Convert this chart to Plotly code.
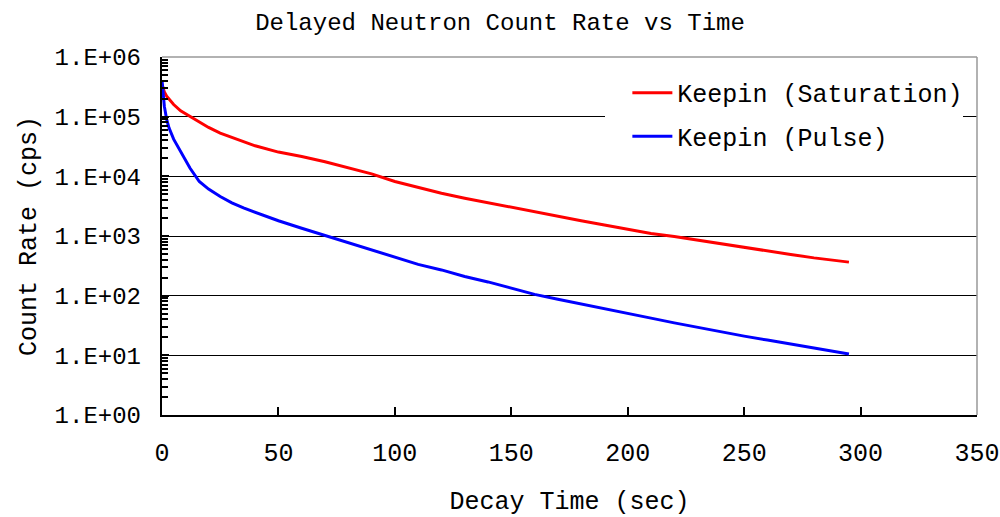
import plotly.graph_objects as go

# Decay time (s) and delayed neutron count rates (cps)
sat_time = [0, 1, 2, 3, 5, 8, 12, 16, 20, 25, 30, 35, 40, 50, 60, 70, 80, 90,
            100, 110, 120, 130, 140, 150, 160, 170, 180, 190, 200, 210, 220,
            230, 240, 250, 260, 270, 280, 290, 295]
sat_rate = [3.5e5, 2.6e5, 2.2e5, 1.95e5, 1.6e5, 1.25e5, 1.0e5, 8.0e4, 6.6e4,
            5.3e4, 4.5e4, 3.8e4, 3.25e4, 2.55e4, 2.15e4, 1.75e4, 1.38e4, 1.1e4,
            8.2e3, 6.5e3, 5.2e3, 4.3e3, 3.6e3, 3.0e3, 2.5e3, 2.1e3, 1.8e3,
            1.53e3, 1.3e3, 1.1e3, 9.8e2, 8.5e2, 7.4e2, 6.4e2, 5.6e2, 4.9e2,
            4.3e2, 3.8e2, 3.65e2]

pulse_time = [0, 0.5, 1, 2, 3, 5, 8, 10, 12, 16, 20, 25, 30, 35, 40, 50, 60,
              70, 80, 90, 100, 110, 120, 130, 140, 150, 160, 170, 180, 190,
              200, 210, 220, 230, 240, 250, 260, 270, 280, 290, 295]
pulse_rate = [4.1e5, 2.2e5, 1.5e5, 9.0e4, 6.5e4, 4.2e4, 2.6e4, 1.9e4, 1.38e4,
              8.2e3, 6.1e3, 4.6e3, 3.6e3, 2.95e3, 2.5e3, 1.8e3, 1.35e3, 1.02e3,
              7.8e2, 5.8e2, 4.5e2, 3.35e2, 2.7e2, 2.1e2, 1.7e2, 1.35e2, 1.05e2,
              8.7e1, 7.2e1, 6.0e1, 5.0e1, 4.2e1, 3.5e1, 2.95e1, 2.45e1, 2.1e1,
              1.8e1, 1.55e1, 1.32e1, 1.15e1, 1.05e1]

y_tickvals = [1, 1e1, 1e2, 1e3, 1e4, 1e5, 1e6]
y_ticktext = ["1.E+00", "1.E+01", "1.E+02", "1.E+03", "1.E+04", "1.E+05", "1.E+06"]
x_tickvals = [0, 50, 100, 150, 200, 250, 300, 350]
x_range = [0, 350]

# minor ticks at 2..9 within each decade
y_minor = [m * d for d in y_tickvals[:-1] for m in range(2, 10)]

FONT = "Liberation Mono"
PAD = "\u00a0"  # gap between the y labels and the axis

fig = go.Figure()
fig.add_trace(go.Scatter(x=sat_time, y=sat_rate, mode="lines",
                         name="Keepin (Saturation)", legendgroup="a",
                         line=dict(color="#ff0000", width=3)))
# same x range on x2, so this curve sits on the same scale
fig.add_trace(go.Scatter(x=pulse_time, y=pulse_rate, mode="lines",
                         name="Keepin (Pulse)", legendgroup="b",
                         xaxis="x2", yaxis="y",
                         line=dict(color="#0000ff", width=3)))

fig.update_layout(
    width=1000, height=517,
    margin=dict(l=162, r=23, t=57, b=102),
    paper_bgcolor="white", plot_bgcolor="white",
    font=dict(family=FONT, size=25, color="black"),
    title=dict(text="Delayed Neutron Count Rate vs Time",
               x=0.5, xref="container", xanchor="center",
               y=1 - 22 / 517, yref="container", yanchor="middle",
               font=dict(family=FONT, size=24, color="black")),
    showlegend=True,
    legend=dict(x=0.571, xanchor="left", y=0.964, yanchor="top",
                bgcolor="rgba(0,0,0,0)", borderwidth=0,
                tracegroupgap=8, itemwidth=40,
                font=dict(family=FONT, size=25, color="black")),
    # bottom axis: line and inward tick marks
    xaxis=dict(range=x_range, tickmode="array", tickvals=x_tickvals,
               ticks="inside", ticklen=8, tickwidth=1.5, tickcolor="black",
               showticklabels=False,
               showline=True, linecolor="black", linewidth=1.5,
               showgrid=False, zeroline=False, automargin=False),
    # companion bottom axis carrying the labels and title, set lower
    xaxis2=dict(range=x_range, overlaying="x", anchor="y", side="bottom",
                tickmode="array", tickvals=x_tickvals, ticks="",
                showline=False, showgrid=False, zeroline=False,
                ticklabelstandoff=20, automargin=False,
                tickfont=dict(family=FONT, size=25),
                title=dict(text="Decay Time (sec)", standoff=23,
                           font=dict(family=FONT, size=25))),
    yaxis=dict(type="log", range=[0, 6], tickmode="array",
               tickvals=y_tickvals,
               ticktext=[t + PAD for t in y_ticktext],
               ticks="inside", ticklen=7, tickwidth=2, tickcolor="black",
               minor=dict(tickmode="array", tickvals=y_minor,
                          ticks="inside", ticklen=6,
                          tickcolor="black", tickwidth=1.5, showgrid=False),
               showline=True, linecolor="black", linewidth=1.5,
               showgrid=True, gridcolor="black", gridwidth=1,
               zeroline=False, automargin=False,
               tickfont=dict(family=FONT, size=24),
               title=dict(text="Count Rate (cps)", standoff=11,
                          font=dict(family=FONT, size=25))),
)

# grey frame on the top and right of the plot area
fig.add_shape(type="line", xref="paper", yref="paper", x0=0, x1=1, y0=1, y1=1,
              line=dict(color="#999999", width=1.5))
fig.add_shape(type="line", xref="paper", yref="paper", x0=1, x1=1, y0=0, y1=1,
              line=dict(color="#999999", width=1.5))
# white panel behind the legend
fig.add_shape(type="rect", xref="paper", yref="paper",
              x0=(605 - 162) / 815, x1=(963 - 162) / 815,
              y0=(415 - 165) / 358, y1=(415 - 70) / 358,
              fillcolor="white", line=dict(width=0), layer="above")

fig.write_html("out.html")
